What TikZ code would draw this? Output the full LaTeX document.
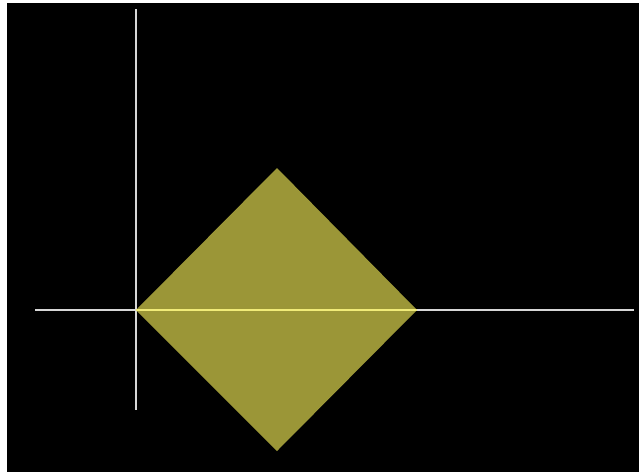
\documentclass[tikz,border=0pt]{standalone}
\begin{document}
\begin{tikzpicture}[x=1pt,y=-1pt]
\definecolor{olivefill}{RGB}{155,150,55}
\definecolor{axisgray}{RGB}{215,215,215}
\definecolor{lineyellow}{RGB}{240,235,120}
\tikzset{axis/.style={draw=axisgray,line width=1.6pt}}
\useasboundingbox (0,0) rectangle (639,472);
\fill[white] (0,0) rectangle (639,472);
\fill[black] (7,3) rectangle (639,472);
\coordinate (xl) at (35,310);
\coordinate (xr) at (634,310);
\coordinate (yt) at (136,9);
\coordinate (yb) at (136,410);
\draw[axis] (xl) -- (xr);
\draw[axis] (yt) -- (yb);
\coordinate (L) at (136,310);
\coordinate (R) at (417,310);
\coordinate (T) at (277,168);
\coordinate (B) at (277,451);
\fill[olivefill] (L) -- (T) -- (R) -- (B) -- cycle;
\draw[lineyellow,line width=1.6pt] (L) -- (R);
\end{tikzpicture}
\end{document}
